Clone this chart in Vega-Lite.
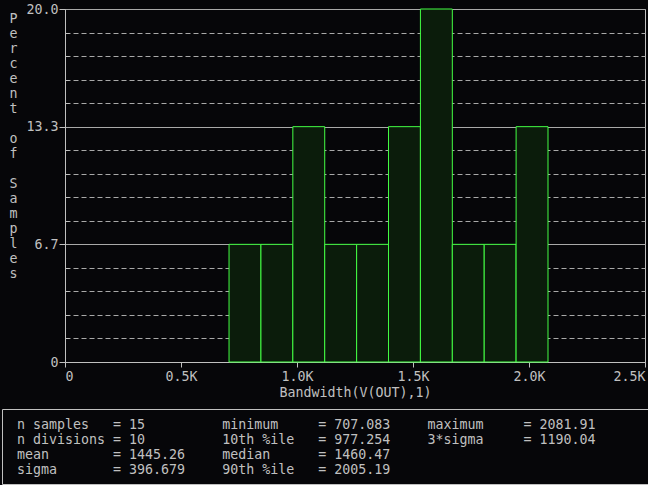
{
  "$schema": "https://vega.github.io/schema/vega-lite/v6.json",
  "background": "#060609",
  "padding": {"left": 1, "top": 1, "right": 0, "bottom": 0},
  "autosize": {"type": "pad"},
  "config": {
    "view": {"stroke": null},
    "font": "DejaVu Sans Mono",
    "text": {"font": "DejaVu Sans Mono", "fontSize": 13.3, "color": "#c0c0c0"},
    "axis": {
      "labelFont": "DejaVu Sans Mono",
      "labelFontSize": 13.3,
      "labelColor": "#c0c0c0",
      "titleFont": "DejaVu Sans Mono",
      "titleFontSize": 13.3,
      "titleColor": "#c0c0c0",
      "titleFontWeight": "normal",
      "domainColor": "#c0c0c0",
      "tickColor": "#c0c0c0",
      "gridColor": "#a8a8a8",
      "gridOpacity": 1
    }
  },
  "datasets": {
    "bins": [
      {"lo": 707.083, "hi": 844.566, "pct": 6.6667},
      {"lo": 844.566, "hi": 982.048, "pct": 6.6667},
      {"lo": 982.048, "hi": 1119.531, "pct": 13.3333},
      {"lo": 1119.531, "hi": 1257.014, "pct": 6.6667},
      {"lo": 1257.014, "hi": 1394.497, "pct": 6.6667},
      {"lo": 1394.497, "hi": 1531.979, "pct": 13.3333},
      {"lo": 1531.979, "hi": 1669.462, "pct": 20},
      {"lo": 1669.462, "hi": 1806.945, "pct": 6.6667},
      {"lo": 1806.945, "hi": 1944.427, "pct": 6.6667},
      {"lo": 1944.427, "hi": 2081.91, "pct": 13.3333}
    ],
    "stats": [
      {"col": 0, "row": 0, "label": "n samples", "value": "= 15"},
      {"col": 0, "row": 1, "label": "n divisions", "value": "= 10"},
      {"col": 0, "row": 2, "label": "mean", "value": "= 1445.26"},
      {"col": 0, "row": 3, "label": "sigma", "value": "= 396.679"},
      {"col": 1, "row": 0, "label": "minimum", "value": "= 707.083"},
      {"col": 1, "row": 1, "label": "10th %ile", "value": "= 977.254"},
      {"col": 1, "row": 2, "label": "median", "value": "= 1460.47"},
      {"col": 1, "row": 3, "label": "90th %ile", "value": "= 2005.19"},
      {"col": 2, "row": 0, "label": "maximum", "value": "= 2081.91"},
      {"col": 2, "row": 1, "label": "3*sigma", "value": "= 1190.04"}
    ]
  },
  "bounds": "full",
  "spacing": 9,
  "vconcat": [
    {
      "bounds": "flush",
      "spacing": 0,
      "hconcat": [
        {
          "width": 63,
          "height": 353,
          "data": {"values": []},
          "mark": "rule",
          "encoding": {}
        },
        {
          "width": 580,
          "height": 353,
          "view": {"stroke": "#c0c0c0"},
          "data": {"name": "bins"},
          "mark": {"type": "rect", "fill": "#0b1c0b", "fillOpacity": 1, "stroke": "#44ff44", "strokeWidth": 1},
          "encoding": {
            "x": {
              "field": "lo",
              "type": "quantitative",
              "scale": {"domain": [0, 2500], "nice": false, "zero": false},
              "axis": {
                "values": [0, 500, 1000, 1500, 2000, 2500],
                "labelExpr": "datum.value == 0 ? '0' : format(datum.value / 1000, '.1f') + 'K'",
                "labelFlush": true,
                "tickSize": 5,
                "labelPadding": 13,
                "labelBaseline": "alphabetic",
                "grid": false,
                "title": "Bandwidth(V(OUT),1)",
                "titleBaseline": "alphabetic",
                "titleY": 34
              }
            },
            "x2": {"field": "hi"},
            "y": {
              "field": "pct",
              "type": "quantitative",
              "scale": {"domain": [0, 20], "nice": false, "zero": true},
              "axis": {
                "values": [0, 1.3333333333, 2.6666666667, 4, 5.3333333333, 6.6666666667, 8, 9.3333333333, 10.6666666667, 12, 13.3333333333, 14.6666666667, 16, 17.3333333333, 18.6666666667, 20],
                "labelExpr": "abs(datum.value * 3 / 20 - round(datum.value * 3 / 20)) < 0.01 ? (datum.value == 0 ? '0' : format(datum.value, '.1f')) : ''",
                "tickSize": {"condition": {"test": "abs(datum.value * 3 / 20 - round(datum.value * 3 / 20)) < 0.01", "value": 6}, "value": -4},
                "gridDash": {"condition": {"test": "abs(datum.value * 3 / 20 - round(datum.value * 3 / 20)) < 0.01", "value": []}, "value": [5, 3]},
                "grid": true,
                "labelPadding": 1,
                "labelFlush": false,
                "labelBaseline": "middle",
                "title": ["P", "e", "r", "c", "e", "n", "t", "\u200b", "o", "f", "\u200b", "S", "a", "m", "p", "l", "e", "s"],
                "titleAngle": 0,
                "titleAlign": "center",
                "titleBaseline": "alphabetic",
                "titleLineHeight": 15,
                "titleX": -52,
                "titleY": 13
              }
            },
            "y2": {"datum": 0}
          }
        }
      ]
    },
    {
      "width": 647,
      "height": 75,
      "view": {"stroke": "#c0c0c0"},
      "data": {"name": "stats"},
      "encoding": {
        "x": {"field": "col", "type": "quantitative", "scale": {"domain": [0, 2], "range": [15, 425.5]}, "axis": null},
        "y": {"field": "row", "type": "quantitative", "scale": {"domain": [0, 3], "range": [20, 65]}, "axis": null}
      },
      "layer": [
        {"mark": {"type": "text", "align": "left", "baseline": "alphabetic"}, "encoding": {"text": {"field": "label"}}},
        {"mark": {"type": "text", "align": "left", "baseline": "alphabetic", "dx": 96}, "encoding": {"text": {"field": "value"}}}
      ]
    }
  ]
}
